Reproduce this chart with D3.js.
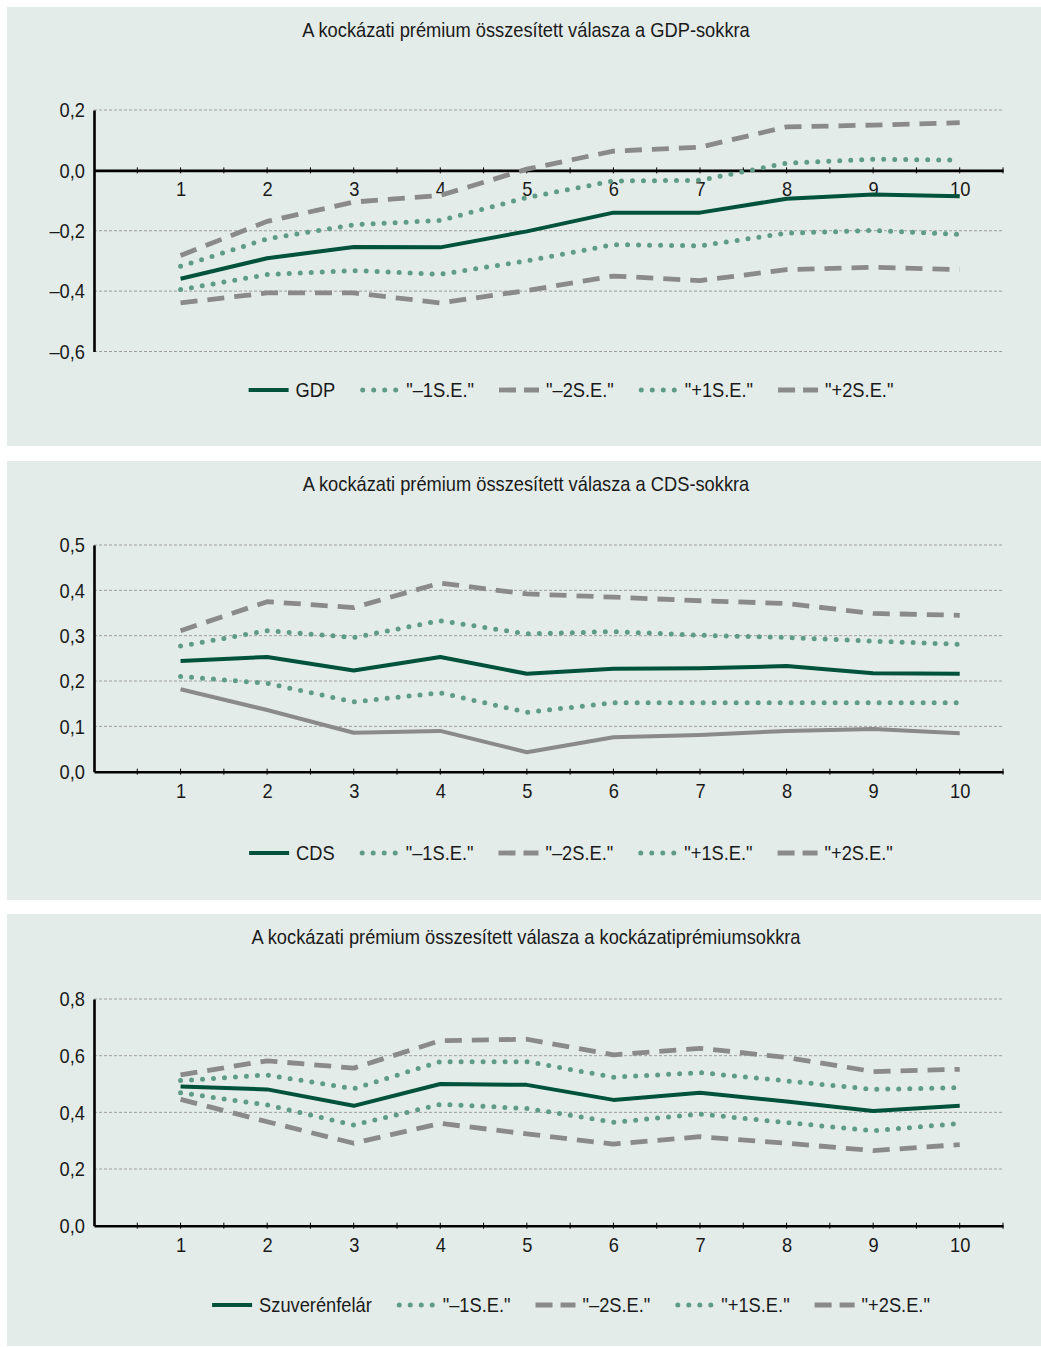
<!DOCTYPE html>
<html>
<head>
<meta charset="utf-8">
<script src="https://cdn.jsdelivr.net/npm/d3@7"></script>
<style>
  html, body { margin: 0; padding: 0; background: #ffffff; }
  svg { display: block; }
  text { font-family: "Liberation Sans", Arial, sans-serif; fill: #1a1a1a; }
</style>
</head>
<body>
<svg id="chart" width="1041" height="1347"></svg>
<script>
// Horizon of the impulse responses (quarters after the shock)
const steps = [1, 2, 3, 4, 5, 6, 7, 8, 9, 10];

// Response of the aggregate risk premium to GDP shocks
const gdpResponse = [-0.359, -0.291, -0.254, -0.255, -0.202, -0.140, -0.140, -0.094, -0.080, -0.086];
const gdpMinus1SE = [-0.395, -0.345, -0.332, -0.344, -0.300, -0.246, -0.250, -0.208, -0.199, -0.212];
const gdpMinus2SE = [-0.439, -0.406, -0.406, -0.439, -0.398, -0.350, -0.365, -0.329, -0.321, -0.329];
const gdpPlus1SE  = [-0.318, -0.227, -0.180, -0.166, -0.090, -0.035, -0.033, 0.024, 0.037, 0.034];
const gdpPlus2SE  = [-0.282, -0.169, -0.105, -0.083, 0.004, 0.064, 0.077, 0.144, 0.150, 0.158];

// Response of the aggregate risk premium to CDS shocks
const cdsResponse = [0.244, 0.253, 0.223, 0.253, 0.216, 0.227, 0.228, 0.233, 0.217, 0.216];
const cdsMinus1SE = [0.210, 0.195, 0.154, 0.174, 0.131, 0.152, 0.152, 0.152, 0.152, 0.152];
const cdsMinus2SE = [0.182, 0.136, 0.086, 0.090, 0.043, 0.076, 0.081, 0.090, 0.094, 0.085];
const cdsPlus1SE  = [0.277, 0.311, 0.296, 0.333, 0.304, 0.309, 0.301, 0.296, 0.288, 0.281];
const cdsPlus2SE  = [0.311, 0.375, 0.362, 0.416, 0.392, 0.385, 0.377, 0.371, 0.349, 0.345];

// Response of the aggregate risk premium to risk premium shocks
const rpResponse = [0.491, 0.481, 0.423, 0.500, 0.497, 0.444, 0.469, 0.438, 0.405, 0.423];
const rpMinus1SE = [0.469, 0.426, 0.355, 0.428, 0.414, 0.365, 0.394, 0.364, 0.335, 0.361];
const rpMinus2SE = [0.446, 0.367, 0.291, 0.361, 0.324, 0.288, 0.314, 0.291, 0.265, 0.286];
const rpPlus1SE  = [0.512, 0.532, 0.483, 0.579, 0.579, 0.524, 0.540, 0.511, 0.481, 0.487];
const rpPlus2SE  = [0.532, 0.582, 0.556, 0.653, 0.658, 0.603, 0.626, 0.594, 0.544, 0.552];

// Tick values of the value axes
const gdpTicks = [-0.6, -0.4, -0.2, 0.0, 0.2];
const cdsTicks = [0.0, 0.1, 0.2, 0.3, 0.4, 0.5];
const rpTicks  = [0.0, 0.2, 0.4, 0.6, 0.8];

// Legend labels
const bandLabels = ['"–1S.E."', '"–2S.E."', '"+1S.E."', '"+2S.E."'];

// Line styles
const STYLE = {
  main:   { stroke: "#00533a", width: 4,   dash: null,    cap: "butt" },
  dot:    { stroke: "#5f9c87", width: 5,   dash: "0,11",  cap: "round" },
  dash:   { stroke: "#8a8a8a", width: 4.8, dash: "17,10", cap: "butt" },
  grey:   { stroke: "#8a8a8a", width: 4,   dash: null,    cap: "butt" }
};

// Horizontal compression that gives the narrow type look
const NARROW = 0.87;

const panels = [
  {
    top: 7, bottom: 446,
    title: "A kockázati prémium összesített válasza a GDP-sokkra", titleY: 30,
    domain: [-0.6, 0.2], yRange: [351.5, 110], ticks: gdpTicks,
    legendY: 390, legendLabel: "GDP",
    series: [
      { values: gdpMinus2SE, style: "dash" },
      { values: gdpPlus2SE,  style: "dash" },
      { values: gdpMinus1SE, style: "dot" },
      { values: gdpPlus1SE,  style: "dot" },
      { values: gdpResponse, style: "main" }
    ]
  },
  {
    top: 461, bottom: 900,
    title: "A kockázati prémium összesített válasza a CDS-sokkra", titleY: 484,
    domain: [0, 0.5], yRange: [771.7, 545], ticks: cdsTicks,
    legendY: 853, legendLabel: "CDS",
    series: [
      { values: cdsMinus2SE, style: "grey" },
      { values: cdsPlus2SE,  style: "dash" },
      { values: cdsMinus1SE, style: "dot" },
      { values: cdsPlus1SE,  style: "dot" },
      { values: cdsResponse, style: "main" }
    ]
  },
  {
    top: 914, bottom: 1346,
    title: "A kockázati prémium összesített válasza a kockázatiprémiumsokkra", titleY: 937,
    domain: [0, 0.8], yRange: [1225.7, 999], ticks: rpTicks,
    legendY: 1305, legendLabel: "Szuverénfelár",
    series: [
      { values: rpMinus2SE, style: "dash" },
      { values: rpPlus2SE,  style: "dash" },
      { values: rpMinus1SE, style: "dot" },
      { values: rpPlus1SE,  style: "dot" },
      { values: rpResponse, style: "main" }
    ]
  }
];

const svg = d3.select("#chart");
const plotLeft = 94, plotRight = 1003;
const x = d3.scaleLinear().domain([0, 10.5]).range([plotLeft, plotRight]);
const halfSteps = d3.range(0.5, 10.51, 0.5);

// Hungarian number format: decimal comma and en-dash minus sign
const fmt = v => d3.format(".1f")(v).replace(/[-−]/, "–").replace(".", ",");

// Squeeze text horizontally around its own anchor point
function narrow(sel) {
  sel.each(function () {
    const t = d3.select(this);
    const x0 = +(t.attr("x") || 0);
    t.attr("x", x0 / NARROW).attr("transform", `scale(${NARROW},1)`);
  });
  return sel;
}

function applyStyle(sel, s) {
  sel.attr("fill", "none")
     .attr("stroke", s.stroke)
     .attr("stroke-width", s.width)
     .attr("stroke-linecap", s.cap)
     .attr("stroke-linejoin", "round");
  if (s.dash) sel.attr("stroke-dasharray", s.dash);
  return sel;
}

panels.forEach(p => {
  const g = svg.append("g");

  // Panel background
  g.append("rect")
    .attr("x", 7).attr("y", p.top)
    .attr("width", 1041 - 7).attr("height", p.bottom - p.top)
    .attr("fill", "#e4ece9");

  // Title
  narrow(g.append("text")
    .attr("x", 526).attr("y", p.titleY)
    .attr("text-anchor", "middle")
    .attr("dominant-baseline", "central")
    .attr("font-size", 21)
    .text(p.title));

  const y = d3.scaleLinear().domain(p.domain).range(p.yRange);

  // Horizontal dotted gridlines
  g.append("g").selectAll("line")
    .data(p.ticks)
    .join("line")
    .attr("x1", plotLeft).attr("x2", plotRight)
    .attr("y1", d => y(d)).attr("y2", d => y(d))
    .attr("stroke", "#9c9c9c")
    .attr("stroke-width", 1)
    .attr("stroke-dasharray", "3,2");

  // Value axis
  const yAxis = g.append("g")
    .attr("transform", `translate(${plotLeft},0)`)
    .call(d3.axisLeft(y).tickValues(p.ticks).tickSize(0).tickSizeOuter(0).tickPadding(9).tickFormat(fmt));
  yAxis.select(".domain").attr("stroke", "#000").attr("stroke-width", 2.6);
  narrow(yAxis.selectAll("text").attr("font-size", 21).attr("fill", "#1a1a1a"));
  yAxis.attr("font-family", null);

  // Horizon axis at zero
  const y0 = y(0);
  const xAxis = g.append("g")
    .attr("transform", `translate(0,${y0})`)
    .call(d3.axisBottom(x).tickValues(steps).tickSize(0).tickSizeOuter(0).tickPadding(11).tickFormat(d3.format("d")));
  xAxis.select(".domain").attr("stroke", "#000").attr("stroke-width", 2.6);
  narrow(xAxis.selectAll("text").attr("font-size", 21).attr("fill", "#1a1a1a"));
  xAxis.attr("font-family", null);

  // Minor ticks on the horizon axis
  g.append("g").selectAll("line")
    .data(halfSteps)
    .join("line")
    .attr("x1", d => x(d)).attr("x2", d => x(d))
    .attr("y1", y0 - 3).attr("y2", y0 + 3)
    .attr("stroke", "#000")
    .attr("stroke-width", 1);

  // Response lines
  const line = d3.line().x((d, i) => x(steps[i])).y(d => y(d));
  p.series.forEach(s => {
    applyStyle(g.append("path").attr("d", line(s.values)), STYLE[s.style]);
  });

  // Legend
  const items = [
    { label: p.legendLabel, style: "main" },
    { label: bandLabels[0], style: "dot" },
    { label: bandLabels[1], style: "dash" },
    { label: bandLabels[2], style: "dot" },
    { label: bandLabels[3], style: "dash" }
  ];
  const lg = g.append("g");
  let cursor = 0;
  items.forEach(it => {
    const s = STYLE[it.style];
    const symW = it.style === "dot" ? 44 : 40;
    const sym = lg.append("line")
      .attr("x1", cursor + (it.style === "dot" ? 2.5 : 0))
      .attr("x2", cursor + symW)
      .attr("y1", p.legendY).attr("y2", p.legendY);
    applyStyle(sym, s);
    if (it.style === "dash") sym.attr("stroke-dasharray", "17,8");
    cursor += symW + (it.style === "dot" ? 2 : 7);
    const t = lg.append("text")
      .attr("x", cursor).attr("y", p.legendY)
      .attr("dominant-baseline", "central")
      .attr("font-size", 21)
      .text(it.label);
    narrow(t);
    cursor += t.node().getComputedTextLength() * NARROW + 25;
  });
  const legendWidth = cursor - 25;
  lg.attr("transform", `translate(${571 - legendWidth / 2},0)`);
});
</script>
</body>
</html>
